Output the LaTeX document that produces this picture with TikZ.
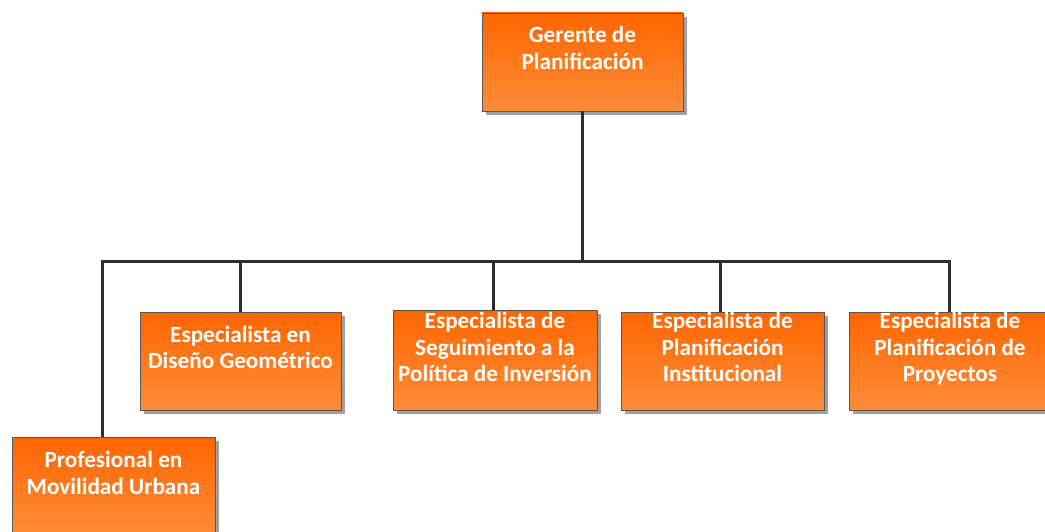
\documentclass[tikz,border=0pt]{standalone}
\usepackage{fontspec}
\setmainfont{Carlito}
\usetikzlibrary{shadows}
\definecolor{otop}{RGB}{255,102,0}
\definecolor{obot}{RGB}{255,140,58}
\definecolor{ln}{RGB}{45,45,45}
\definecolor{shd}{RGB}{160,160,160}
\tikzset{
  orgbox/.style={rectangle, draw=ln!80, line width=0.9pt, top color=otop, bottom color=obot,
    minimum width=#1, minimum height=98pt, inner sep=0pt,
    drop shadow={shadow xshift=4pt, shadow yshift=-4pt, fill=shd, opacity=1}},
  orgbox/.default=201pt,
  lbl/.style={text=white, font=\bfseries\fontsize{23.2}{26.5}\selectfont, align=center, inner sep=0pt},
  conn/.style={draw=ln, line width=3pt}
}
\begin{document}
\begin{tikzpicture}[x=1pt,y=-1pt]
\useasboundingbox (0,0) rectangle (1045,532);
% boxes
\node[orgbox] (ger) at (582.5,62) {};
\node[orgbox] (dis) at (240.5,361) {};
\node[orgbox=204pt, minimum height=100pt] (seg) at (495,360) {};
\node[orgbox=203pt] (ins) at (722.5,361) {};
\node[orgbox=202pt] (pry) at (950,361) {};
\node[orgbox=203pt] (pro) at (113.5,486) {};
% texts
\node[lbl] (tger) at (582.5,50.5) {\strut Gerente de\\\strut Planificación};
\node[lbl] (tdis) at (240.5,350) {\strut Especialista en\\\strut Diseño Geométrico};
\node[lbl] (tseg) at (495,350) {\strut Especialista de\\\strut Seguimiento a la\\\strut Política de Inversión};
\node[lbl] (tins) at (722.5,350) {\strut Especialista de\\\strut Planificación\\\strut Institucional};
\node[lbl] (tpry) at (950,350) {\strut Especialista de\\\strut Planificación de\\\strut Proyectos};
\node[lbl] (tpro) at (113.5,475.5) {\strut Profesional en\\\strut Movilidad Urbana};
% connectors
\coordinate (busL) at (102,261);
\coordinate (busR) at (949,261);
\draw[conn] (ger.south) -- (ger.south |- busL);
\draw[conn, line cap=rect] (busL) -- (busR);
\draw[conn] (busL) -- (busL |- pro.north);
\draw[conn] (dis.north) -- (dis.north |- busL);
\draw[conn] (seg.north -| 493,0) -- (busL -| 493,0);
\draw[conn] (ins.north -| 720,0) -- (busL -| 720,0);
\draw[conn] (pry.north -| busR) -- (busR);
\end{tikzpicture}
\end{document}
